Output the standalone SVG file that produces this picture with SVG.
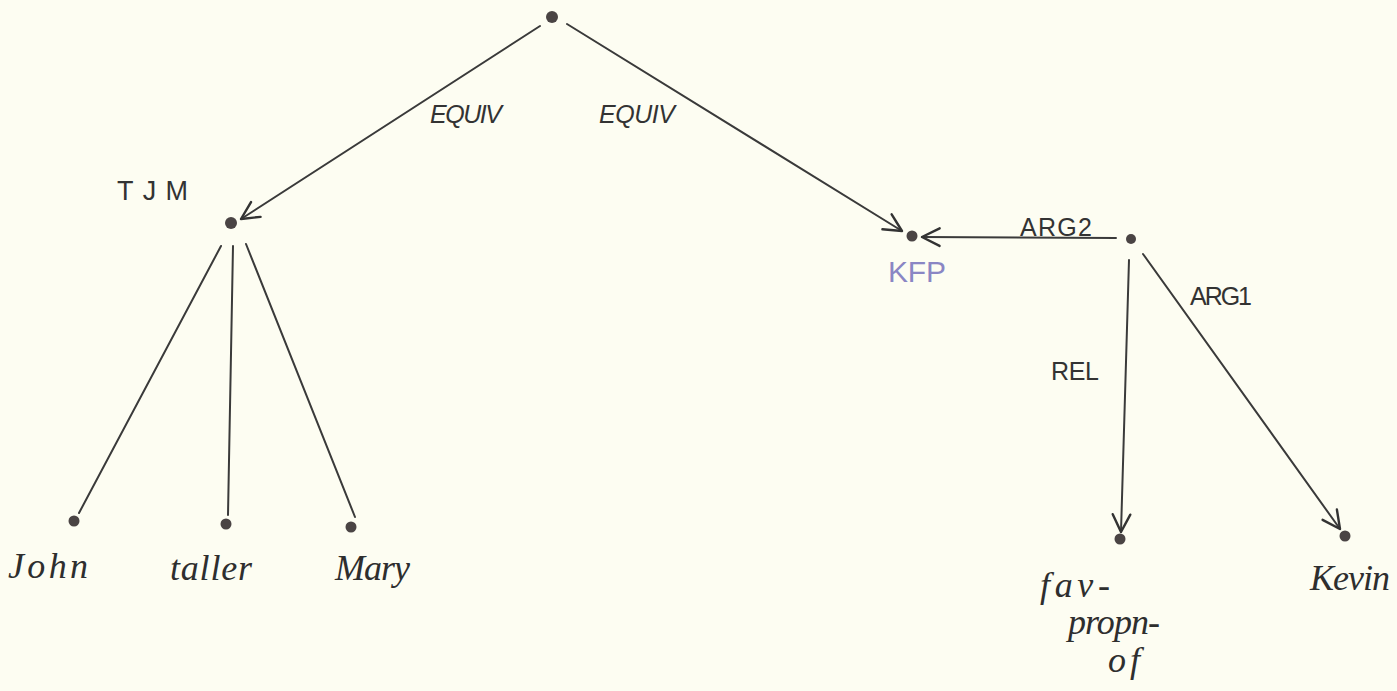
<svg xmlns="http://www.w3.org/2000/svg" width="1397" height="691" viewBox="0 0 1397 691">
<defs>
<marker id="arr" viewBox="0 0 20 20" refX="18" refY="10" markerWidth="22" markerHeight="22" markerUnits="userSpaceOnUse" orient="auto">
<path d="M2,2 L18,10 L2,18" fill="none" stroke="#333" stroke-width="2.2" stroke-linecap="round" stroke-linejoin="round"/>
</marker>
<style>
.edge{stroke:#3a3a3a;stroke-width:2;fill:none;stroke-linecap:round}
.dot{fill:#4a4444}
.cap{font-family:"Liberation Sans",sans-serif;font-size:25px;fill:#333}
.word{font-family:"Liberation Serif",serif;font-style:italic;font-size:36px;fill:#2e2e2e}
</style>
</defs>
<rect width="1397" height="691" fill="#fdfdf2"/>
<g id="connectors">
<line class="edge" x1="540" y1="26" x2="241" y2="219" marker-end="url(#arr)"/>
<line class="edge" x1="567" y1="24" x2="902" y2="231" marker-end="url(#arr)"/>
<line class="edge" x1="1116" y1="238" x2="922" y2="237" marker-end="url(#arr)"/>
<line class="edge" x1="1129" y1="260" x2="1121" y2="532" marker-end="url(#arr)"/>
<line class="edge" x1="1143" y1="254" x2="1340" y2="529" marker-end="url(#arr)"/>
<line class="edge" x1="221" y1="246" x2="79" y2="513"/>
<line class="edge" x1="233" y1="246" x2="228" y2="515"/>
<line class="edge" x1="246" y1="244" x2="355" y2="517"/>
<text class="cap" font-style="italic" x="430" y="123" textLength="72">EQUIV</text>
<text class="cap" font-style="italic" x="599" y="123" textLength="76">EQUIV</text>
<text class="cap" x="1020" y="236" textLength="72">ARG2</text>
<text class="cap" x="1190" y="305" textLength="62">ARG1</text>
<text class="cap" x="1051" y="380" textLength="48">REL</text>
</g>
<g id="root"><circle class="dot" cx="552" cy="17" r="6"/></g>
<g id="TJM"><circle class="dot" cx="231" cy="223" r="6"/><text class="cap" x="117" y="200" font-size="27" style="font-size:27px" textLength="71">TJM</text></g>
<g id="KFP"><circle class="dot" cx="912" cy="236" r="5.5"/><text class="cap" x="888" y="282" style="fill:#8a86c4;font-size:30px" textLength="58">KFP</text></g>
<g id="rel"><circle class="dot" cx="1131" cy="239" r="5"/></g>
<g id="John"><circle class="dot" cx="74" cy="521" r="5.5"/><text class="word" x="8" y="578" textLength="80">John</text></g>
<g id="taller"><circle class="dot" cx="226" cy="524" r="5.5"/><text class="word" x="170" y="580" textLength="82">taller</text></g>
<g id="Mary"><circle class="dot" cx="351" cy="527" r="5.5"/><text class="word" x="335" y="580" textLength="75">Mary</text></g>
<g id="favpropnof"><circle class="dot" cx="1120" cy="539" r="5.5"/>
<text class="word" x="1040" y="597" textLength="70">fav-</text>
<text class="word" x="1068" y="634" textLength="92">propn-</text>
<text class="word" x="1108" y="672" textLength="32">of</text></g>
<g id="Kevin"><circle class="dot" cx="1345" cy="536" r="5.5"/><text class="word" x="1310" y="590" textLength="80">Kevin</text></g>
</svg>
